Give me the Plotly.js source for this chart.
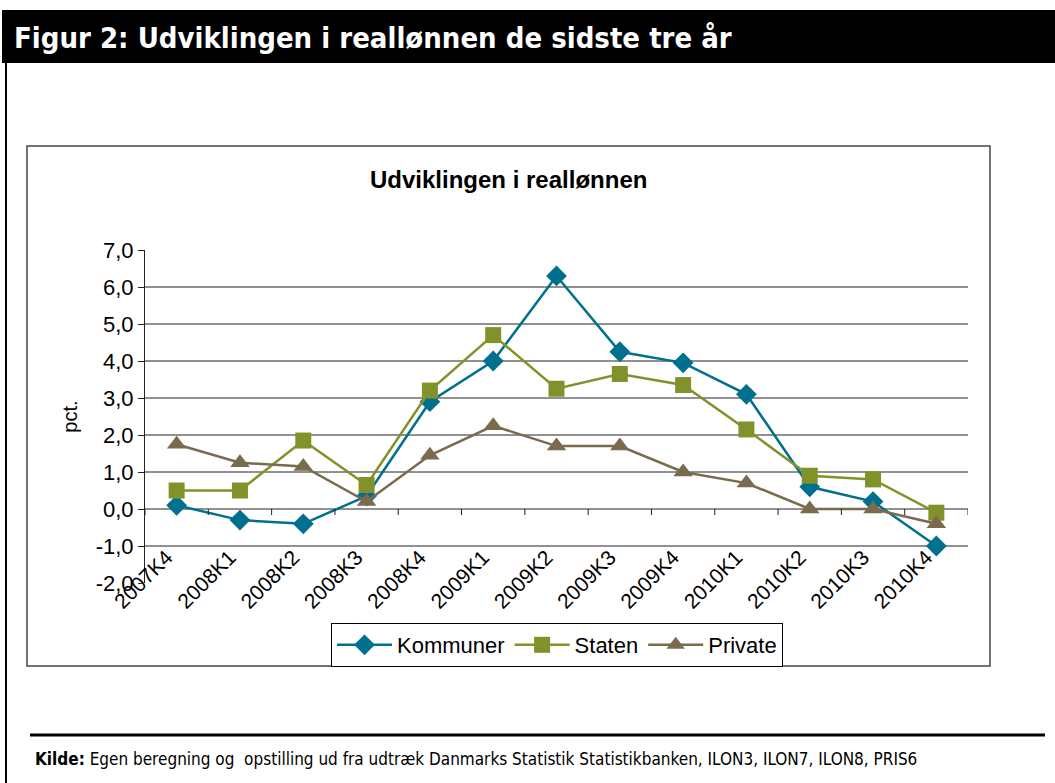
<!DOCTYPE html>
<html>
<head>
<meta charset="utf-8">
<script src="https://cdn.plot.ly/plotly-3.0.1.min.js"></script>
<style>
html,body{margin:0;padding:0;background:#fff;}
#chart{width:1055px;height:783px;}
</style>
</head>
<body>
<div id="chart"></div>
<script>
// ---- data ----
const categories = ["2007K4","2008K1","2008K2","2008K3","2008K4","2009K1","2009K2","2009K3","2009K4","2010K1","2010K2","2010K3","2010K4"];
const kommuner = [0.1, -0.3, -0.4, 0.35, 2.9, 4.0, 6.3, 4.25, 3.95, 3.1, 0.6, 0.2, -1.0];
const staten   = [0.5, 0.5, 1.85, 0.65, 3.2, 4.7, 3.25, 3.65, 3.35, 2.15, 0.9, 0.8, -0.1];
const privat   = [1.75, 1.25, 1.15, 0.2, 1.45, 2.25, 1.7, 1.7, 1.0, 0.7, 0.0, 0.0, -0.4];
const seriesNames = ["Kommuner","Staten","Private"];
const yTicks = [-2,-1,0,1,2,3,4,5,6,7];
const yTickText = ["-2,0","-1,0","0,0","1,0","2,0","3,0","4,0","5,0","6,0","7,0"];
const gridValues = [-1,0,1,2,3,4,5,6];

const W = 1055, H = 783;
const px = x => x / W;
const py = y => 1 - y / H;

const colors = ["#00708E", "#82922A", "#7A6B4E"];
const symbols = ["diamond", "square", "triangle-up"];
const sizes = [16, 16, 17];
const vals = [kommuner, staten, privat];

const traces = vals.map((v, i) => ({
  type: "scatter",
  mode: "lines+markers",
  name: seriesNames[i],
  x: categories,
  y: v,
  line: {color: colors[i], width: 2.5},
  marker: {symbol: symbols[i], size: sizes[i], color: colors[i]},
  hoverinfo: "skip"
}));

const shapes = [];
shapes.push({type:"rect", xref:"paper", yref:"paper", x0:px(2), x1:1, y0:py(10), y1:py(63), fillcolor:"#000", line:{width:0}, layer:"below"});
shapes.push({type:"line", xref:"paper", yref:"paper", x0:px(6), x1:px(6), y0:py(63), y1:0, line:{color:"#000", width:2}});
shapes.push({type:"rect", xref:"paper", yref:"paper", x0:px(27), x1:px(990), y0:py(146), y1:py(666), line:{color:"#444", width:1.5}, layer:"below"});
shapes.push({type:"line", xref:"paper", yref:"paper", x0:px(30), x1:px(1045), y0:py(735), y1:py(735), line:{color:"#000", width:3}});
gridValues.forEach(g => shapes.push({type:"line", xref:"x domain", yref:"y", x0:0, x1:1, y0:g, y1:g, line:{color:"#222", width:1}, layer:"below"}));
for (let i = 0; i <= categories.length; i++) {
  shapes.push({type:"line", xref:"x", yref:"y", ysizemode:"pixel", yanchor:0, x0:i-0.5, x1:i-0.5, y0:0, y1:-6, line:{color:"#222", width:1}});
}

const FONT = "Liberation Sans, Arial, sans-serif";
const layout = {
  width: W, height: H,
  margin: {l:0, r:0, t:0, b:0},
  paper_bgcolor: "#fff",
  plot_bgcolor: "rgba(0,0,0,0)",
  showlegend: true,
  font: {family: FONT, color: "#000", size: 20},
  xaxis: {
    domain: [px(145), px(968)],
    type: "category",
    range: [-0.5, categories.length - 0.5],
    anchor: "free",
    position: py(540),
    showgrid: false, zeroline: false, showline: false,
    ticks: "",
    tickangle: -45,
    ticklabelshift: -10,
    tickfont: {family: FONT, size: 21, color: "#000"},
    fixedrange: true
  },
  yaxis: {
    domain: [py(583), py(250)],
    range: [-2, 7],
    tickvals: yTicks,
    ticktext: yTickText,
    showgrid: false, zeroline: false,
    showline: true, linecolor: "#222", linewidth: 1,
    ticks: "outside", ticklen: 6, tickcolor: "#222",
    tickfont: {family: FONT, size: 22, color: "#000"},
    title: {text: "pct.", font: {family: FONT, size: 20, color: "#000"}, standoff: 12},
    fixedrange: true
  },
  legend: {
    orientation: "h",
    x: px(557), xanchor: "center",
    y: py(623), yanchor: "top",
    bordercolor: "#000", borderwidth: 1,
    bgcolor: "#fff",
    font: {family: FONT, size: 22, color: "#000"},
    itemwidth: 55,
    tracegroupgap: 0
  },
  shapes: shapes,
  annotations: [
    {xref:"paper", yref:"paper", x:px(12), y:py(38), xanchor:"left", yanchor:"middle", showarrow:false,
     text:"<b>Figur 2: Udviklingen i reallønnen de sidste tre år</b>",
     font:{family:"DejaVu Sans Condensed, DejaVu Sans, sans-serif", size:29, color:"#fff"}},
    {xref:"paper", yref:"paper", x:px(508), y:py(180), xanchor:"center", yanchor:"middle", showarrow:false,
     text:"<b>Udviklingen i reallønnen</b>",
     font:{family:FONT, size:24, color:"#000"}},
    {xref:"paper", yref:"paper", x:px(33), y:py(759), xanchor:"left", yanchor:"middle", showarrow:false,
     text:"<b>Kilde:</b> Egen beregning og  opstilling ud fra udtræk Danmarks Statistik Statistikbanken, ILON3, ILON7, ILON8, PRIS6",
     font:{family:"DejaVu Sans Condensed, DejaVu Sans, sans-serif", size:17, color:"#000"}}
  ]
};

Plotly.newPlot("chart", traces, layout, {displayModeBar: false, staticPlot: true});
</script>
</body>
</html>
